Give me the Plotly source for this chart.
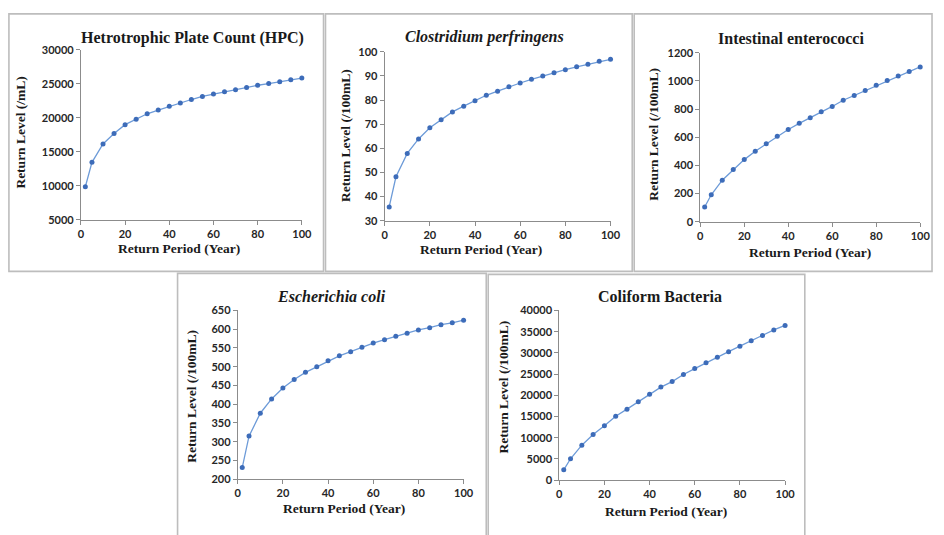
import plotly.graph_objects as go

# Return periods (years) shared by all five panels
periods = [2, 5, 10, 15, 20, 25, 30, 35, 40, 45, 50, 55, 60, 65, 70, 75, 80, 85, 90, 95, 100]

# Return levels per indicator
hpc = [9850, 13450, 16150, 17700, 19000, 19800, 20600, 21150, 21700, 22200, 22700,
       23150, 23500, 23850, 24150, 24450, 24800, 25050, 25300, 25600, 25850]
clostridium = [35.7, 48.2, 57.9, 63.9, 68.5, 71.9, 75.1, 77.5, 79.7, 82.0, 83.7,
               85.5, 87.1, 88.6, 90.0, 91.3, 92.6, 93.8, 94.9, 96.1, 96.9]
enterococci = [104, 191, 295, 371, 441, 501, 554, 607, 655, 699, 738,
               782, 819, 863, 897, 932, 969, 1003, 1036, 1068, 1100]
ecoli = [231, 315, 376, 414, 443, 466, 485, 500, 516, 529, 540,
         552, 563, 572, 581, 589, 598, 604, 612, 617, 624]
coliform = [2450, 5050, 8250, 10780, 12840, 15060, 16740, 18500, 20260, 21940, 23240,
            24920, 26300, 27680, 28980, 30280, 31580, 32880, 34100, 35400, 36470]

titles = ["Hetrotrophic Plate Count (HPC)", "<i>Clostridium perfringens</i>",
          "Intestinal enterococci", "<i>Escherichia coli</i>", "Coliform Bacteria"]
y_titles = ["Return Level (/mL)", "Return Level (/100mL)", "Return Level (/100mL)",
            "Return Level (/100mL)", "Return Level (/100mL)"]
x_title = "Return Period (Year)"
y_ranges = [(5000, 30000, 5000), (30, 100, 10), (0, 1200, 200), (200, 650, 50), (0, 40000, 5000)]
series = [hpc, clostridium, enterococci, ecoli, coliform]

W, H = 944, 535

# Pixel layout of each panel: frame box, plot box, title / axis-title anchors
panels = [
    dict(frame=(6, 7, 325, 271), plot=(79, 44, 303, 218), title=(192, 32),
         ytitle=(18, 129), xtitle=(178, 248)),
    dict(frame=(327, 7, 638, 271), plot=(387, 46, 616, 219), title=(488, 31),
         ytitle=(348, 132), xtitle=(485, 249)),
    dict(frame=(640, 7, 942, 271), plot=(707, 47, 930, 220), title=(799, 32),
         ytitle=(660, 130), xtitle=(818, 252)),
    dict(frame=(177, 273, 490, 545), plot=(238, 311, 467, 484), title=(333, 297),
         ytitle=(191, 399), xtitle=(346, 514)),
    dict(frame=(492, 274, 813, 545), plot=(564, 311, 793, 485), title=(666, 297),
         ytitle=(508, 390), xtitle=(672, 517)),
]

fig = go.Figure()
shapes = []
annotations = []

title_font = dict(family="Liberation Serif", size=16, color="#1a1a1a", weight="bold")
axis_title_font = dict(family="Liberation Serif", size=13.5, color="#1a1a1a", weight="bold")
tick_font = dict(family="Lato", size=11, color="#262626", weight="bold")

for i, (p, vals) in enumerate(zip(panels, series)):
    n = "" if i == 0 else str(i + 1)
    x0, y0, x1, y1 = p["plot"]
    fig.add_trace(go.Scatter(
        x=periods, y=vals, mode="lines+markers",
        line=dict(color="#6d9bd8", width=1.3),
        marker=dict(color="#3d6cb9", size=5),
        xaxis="x" + n, yaxis="y" + n, showlegend=False, cliponaxis=False,
    ))
    lo, hi, step = y_ranges[i]
    common = dict(showgrid=False, zeroline=False, showline=True, linecolor="#8c8c8c",
                  linewidth=1, ticks="outside", tickcolor="#8c8c8c", ticklen=4,
                  tickfont=tick_font, tickformat="d")
    fig.update_layout(**{
        "xaxis" + n: dict(domain=[x0 / W, x1 / W], range=[0, 100], dtick=20, tick0=0,
                          anchor="y" + n, **common),
        "yaxis" + n: dict(domain=[1 - y1 / H, 1 - y0 / H], range=[lo, hi], dtick=step,
                          tick0=lo, anchor="x" + n, **common),
    })
    fx0, fy0, fx1, fy1 = p["frame"]
    shapes.append(dict(type="rect", xref="paper", yref="paper",
                       x0=fx0 / W, x1=fx1 / W, y0=1 - fy1 / H, y1=1 - fy0 / H,
                       line=dict(color="#bdbdbd", width=1.6), layer="below"))
    tx, ty = p["title"]
    annotations.append(dict(text=titles[i], x=tx / W, y=1 - ty / H, xref="paper", yref="paper",
                            showarrow=False, font=title_font, xanchor="center", yanchor="middle"))
    ax_, ay_ = p["xtitle"]
    annotations.append(dict(text=x_title, x=ax_ / W, y=1 - ay_ / H, xref="paper", yref="paper",
                            showarrow=False, font=axis_title_font, xanchor="center", yanchor="middle"))
    vx, vy = p["ytitle"]
    annotations.append(dict(text=y_titles[i], x=vx / W, y=1 - vy / H, xref="paper", yref="paper",
                            showarrow=False, font=axis_title_font, textangle=-90,
                            xanchor="center", yanchor="middle"))

fig.update_layout(width=W, height=H, margin=dict(l=0, r=0, t=0, b=0),
                  paper_bgcolor="white", plot_bgcolor="white",
                  shapes=shapes, annotations=annotations)

fig.write_html("out.html")
